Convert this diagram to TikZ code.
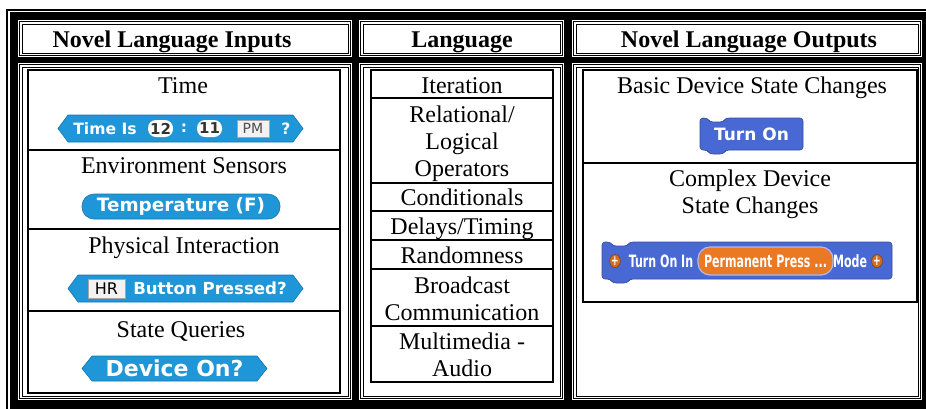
\documentclass[tikz,border=0pt]{standalone}
\usepackage{fontspec}
\setmainfont{Liberation Serif}
\newfontfamily\blockfont{DejaVu Sans}
\newfontfamily\narrowfont[FakeStretch=0.65]{DejaVu Sans}
\usetikzlibrary{shapes.geometric}
\definecolor{sensing}{RGB}{30,150,215}
\definecolor{command}{RGB}{72,105,212}
\definecolor{operator}{RGB}{235,120,35}
\tikzset{
  cellhead/.style={anchor=base, inner sep=0pt, font=\fontsize{12}{13.5}\selectfont\bfseries},
  celltext/.style={anchor=base, align=center, inner sep=0pt, font=\fontsize{12}{13.5}\selectfont},
  blocktext/.style={text=white, inner sep=0pt, font=\blockfont\bfseries\fontsize{#1}{#1}\selectfont},
  blocktext/.default=9,
  narrowtext/.style={text=white, inner sep=0pt, font=\narrowfont\bfseries\fontsize{8.5}{8.5}\selectfont},
  sensblock/.style={fill=sensing, draw=sensing!80!black, line width=0.3pt},
  cmdblock/.style={fill=command, draw=command!75!black, line width=0.3pt, rounded corners=1.5pt},
  numslot/.style={fill=white, rounded corners=4pt, minimum width=12.5pt, minimum height=8.5pt, inner sep=0pt,
    text=black!80, font=\blockfont\bfseries\fontsize{7.5}{7.5}\selectfont},
  boxslot/.style={fill=black!5, draw=black!35, line width=0.3pt, inner sep=0pt, font=\blockfont\fontsize{#1}{#1}\selectfont},
  pill/.style={fill=sensing, draw=sensing!80!black, line width=0.3pt, rounded corners=6pt, inner sep=0pt,
    text=white, font=\blockfont\bfseries\fontsize{9.2}{9.2}\selectfont},
  slotorange/.style={fill=operator, draw=white!55!command, line width=0.6pt, rounded corners=6pt, inner sep=0pt,
    text=white, font=\narrowfont\bfseries\fontsize{8.5}{8.5}\selectfont},
  plus/.style={ellipse, fill=operator!90!black, draw=operator!55!black, line width=0.3pt, minimum width=4pt,
    minimum height=6.5pt, inner sep=0pt, text=white, font=\narrowfont\bfseries\fontsize{7}{7}\selectfont}
}
\begin{document}
\begin{tikzpicture}[x=0.5pt,y=-0.5pt]
\useasboundingbox (0,0) rectangle (926,408);
\clip (0,0) rectangle (926,408);
\draw[line width=0.6pt] (7,10) rectangle (935,420);
\fill (10,12) rectangle (935,420);
\foreach \xa/\xb in {18/352,359/564,572/922}
  \foreach \ya/\yb in {20/57,63/400} {
    \fill[white] (\xa,\ya) rectangle (\xb,\yb);
    \draw[line width=0.5pt] (\xa+1.5,\ya+1.5) rectangle (\xb-1.5,\yb-1.5);
    \draw[line width=0.5pt] (\xa+4,\ya+4) rectangle (\xb-4,\yb-4);
  }

\draw[line width=1pt] (28,70) rectangle (340,393);
\foreach \y in {150,229,311} \draw[line width=0.75pt] (28,\y) -- (340,\y);
\draw[line width=1pt] (371,70) rectangle (553,382);
\foreach \y in {98,183,211,240,269,326} \draw[line width=0.75pt] (371,\y) -- (553,\y);
\draw[line width=1pt] (583,70) rectangle (917,302);
\draw[line width=0.75pt] (583,163) -- (917,163);

\node[cellhead] (inputs) at (172,47) {Novel Language Inputs};
\node[cellhead] (language) at (462,47) {Language};
\node[cellhead] (outputs) at (749,47) {Novel Language Outputs};

\node[celltext] (time) at (183,93) {Time};
\node[celltext] (environment) at (184,173) {Environment Sensors};
\node[celltext] (physical) at (184,253) {Physical Interaction};
\node[celltext] (queries) at (181,337) {State Queries};

\node[celltext] (iteration) at (462,93) {Iteration};
\node[celltext] (relational) at (462,176) {Relational/\\Logical\\Operators};
\node[celltext] (conditionals) at (462,205) {Conditionals};
\node[celltext] (delays) at (462,234) {Delays/Timing};
\node[celltext] (randomness) at (462,263) {Randomness};
\node[celltext] (broadcast) at (462,320) {Broadcast\\Communication};
\node[celltext] (multimedia) at (462,376) {Multimedia -\\Audio};

\node[celltext] (basic) at (752,93) {Basic Device State Changes};
\node[celltext] (complex) at (750,213) {Complex Device\\State Changes};

\filldraw[sensblock] (58,128.5) -- (68,115) -- (293,115) -- (303,128.5) -- (293,142) -- (68,142) -- cycle;
\node[blocktext=7.8] (timeis) at (105,128.5) {Time Is};
\node[numslot] (hour) at (160.5,128.5) {12};
\node[blocktext=7.8] (colon) at (184,128.5) {:};
\node[numslot] (minute) at (209.5,128.5) {11};
\node[boxslot=7, minimum width=16pt, minimum height=8.5pt, text=black!70] (ampm) at (253,128.5) {PM};
\node[blocktext=7.8] (question) at (286,128.5) {?};

\node[pill, minimum width=99pt, minimum height=12.5pt] (temperature) at (181,206.5) {Temperature (F)};

\filldraw[sensblock] (68,288.5) -- (78,275) -- (293,275) -- (303,288.5) -- (293,302) -- (78,302) -- cycle;
\node[boxslot=8, minimum width=18.5pt, minimum height=9.5pt] (hr) at (106.5,288.5) {HR};
\node[blocktext=8.3] (pressed) at (210,288.5) {Button Pressed?};

\filldraw[sensblock] (82,368.5) -- (92,356) -- (257,356) -- (267,368.5) -- (257,381) -- (92,381) -- cycle;
\node[blocktext=11] (deviceon) at (174.5,368.5) {Device On?};

\filldraw[cmdblock] (700,118) -- (707,118) -- (710,122) -- (723,122) -- (726,118) -- (803,118) -- (803,150)
  -- (726,150) -- (723,154) -- (710,154) -- (707,150) -- (700,150) -- cycle;
\node[blocktext=8.5] (turnon) at (751.5,134) {Turn On};

\filldraw[cmdblock] (602,242) -- (610,242) -- (613,246) -- (627,246) -- (630,242) -- (892,242) -- (892,279)
  -- (630,279) -- (627,283) -- (613,283) -- (610,279) -- (602,279) -- cycle;
\node[plus] (addleft) at (615,261) {+};
\node[narrowtext] (turnonin) at (661,261) {Turn On In};
\node[slotorange, minimum width=67.5pt, minimum height=14pt] (press) at (765.5,261) {Permanent Press ...};
\node[narrowtext] (mode) at (850,261) {Mode};
\node[plus] (addright) at (877,261) {+};
\end{tikzpicture}
\end{document}
